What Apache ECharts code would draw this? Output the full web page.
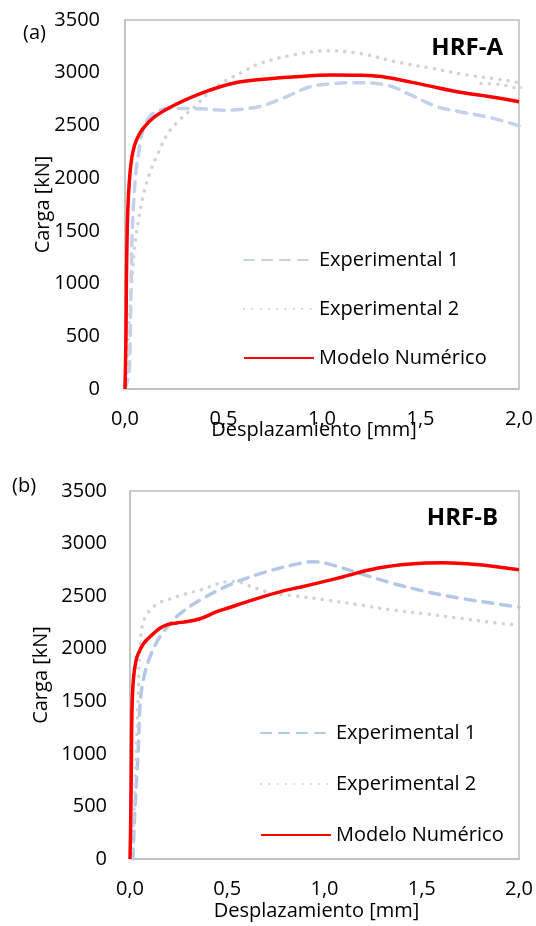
<!DOCTYPE html>
<html>
<head>
<meta charset="utf-8">
<script src="https://cdn.jsdelivr.net/npm/echarts@6/dist/echarts.min.js"></script>
<style>
    html, body {margin: 0; padding: 0; background: #fff;}
    #boxA, #boxB {width: 536px; height: 463px;}
</style>
</head>
<body>
<div id="boxA"></div>
<div id="boxB"></div>
<script>
// (a) HRF-A
var dispA_exp1 = [0, 0.02, 0.026, 0.031, 0.036, 0.045, 0.055, 0.068, 0.091, 0.134, 0.218, 0.386, 0.5, 0.6, 0.685, 0.8, 0.94, 1.05, 1.16, 1.33, 1.45, 1.58, 1.7, 1.87, 2.0];
var loadA_exp1 = [0, 150, 500, 1000, 1450, 1800, 2050, 2220, 2457, 2600, 2660, 2658, 2645, 2655, 2680, 2757, 2867, 2895, 2905, 2883, 2790, 2680, 2630, 2567, 2495];
var dispA_exp2 = [0, 0.01, 0.02, 0.032, 0.049, 0.066, 0.091, 0.125, 0.168, 0.218, 0.286, 0.354, 0.43, 0.516, 0.6, 0.685, 0.854, 1.02, 1.19, 1.39, 1.56, 1.735, 1.9, 2.0, 2.04, 2.0, 1.9, 1.77];
var loadA_exp2 = [0, 150, 620, 940, 1350, 1570, 1824, 2046, 2236, 2425, 2568, 2678, 2820, 2930, 3010, 3088, 3168, 3209, 3183, 3097, 3041, 2978, 2937, 2905, 2890, 2855, 2890, 2900];
var dispA_num = [0, 0.005, 0.007, 0.012, 0.018, 0.027, 0.04, 0.06, 0.091, 0.151, 0.252, 0.386, 0.55, 0.685, 0.85, 1.05, 1.2, 1.33, 1.53, 1.7, 1.87, 2.0];
var loadA_num = [0, 500, 1000, 1570, 1850, 2080, 2250, 2370, 2470, 2583, 2694, 2805, 2900, 2935, 2960, 2978, 2975, 2955, 2880, 2815, 2768, 2725];

// (b) HRF-B
var dispB_exp1 = [0.015, 0.02, 0.026, 0.035, 0.043, 0.051, 0.068, 0.103, 0.154, 0.24, 0.36, 0.53, 0.703, 0.874, 0.94, 1.01, 1.18, 1.35, 1.525, 1.7, 1.87, 2.0];
var loadB_exp1 = [0, 250, 497, 800, 1068, 1449, 1702, 1924, 2114, 2305, 2463, 2622, 2733, 2812, 2828, 2812, 2717, 2622, 2542, 2479, 2431, 2393];
var dispB_exp2 = [0.01, 0.017, 0.026, 0.034, 0.043, 0.051, 0.068, 0.103, 0.154, 0.189, 0.274, 0.36, 0.497, 0.55, 0.6, 0.65, 0.737, 0.84, 1.01, 1.18, 1.35, 1.525, 1.7, 1.87, 2.0];
var loadB_exp2 = [0, 300, 700, 1132, 1607, 2019, 2250, 2368, 2440, 2463, 2515, 2558, 2637, 2640, 2606, 2574, 2527, 2505, 2463, 2416, 2368, 2330, 2289, 2248, 2222];
var dispB_num = [0, 0.004, 0.007, 0.01, 0.017, 0.03, 0.043, 0.07, 0.103, 0.15, 0.189, 0.24, 0.29, 0.36, 0.446, 0.5, 0.64, 0.788, 0.874, 1.0, 1.097, 1.27, 1.44, 1.61, 1.78, 2.0];
var loadB_num = [0, 400, 900, 1400, 1700, 1880, 1956, 2050, 2114, 2190, 2226, 2245, 2257, 2285, 2352, 2385, 2470, 2550, 2585, 2640, 2685, 2765, 2806, 2818, 2800, 2750];

var seriesNames = ['Experimental 1', 'Experimental 2', 'Modelo Numérico'];
var FONT = '"Open Sans", sans-serif';

function pairs(xs, ys) {
    var out = [];
    for (var i = 0; i < xs.length; i++) {
        out.push([xs[i], ys[i]]);
    }
    return out;
}

function makeOption(cfg) {
    return {
        animation: false,
        textStyle: {fontFamily: FONT},
        title: {
            text: cfg.tag,
            right: cfg.tagRight,
            top: cfg.tagTop,
            textStyle: {fontFamily: FONT, fontSize: 24, fontWeight: 'bold', color: '#000'}
        },
        graphic: [{
            type: 'text',
            left: cfg.letterX,
            top: cfg.letterY,
            style: {text: cfg.letter, font: '20px ' + FONT, fill: '#000'}
        }],
        grid: {
            left: cfg.left, right: 17, top: cfg.top, height: cfg.height,
            outerBoundsMode: 'none',
            show: true, borderColor: '#BFBFBF', borderWidth: 1.5
        },
        legend: {
            orient: 'vertical',
            left: cfg.legendX,
            top: cfg.legendY,
            padding: 0,
            itemWidth: 70,
            itemHeight: 20,
            itemGap: cfg.legendGap,
            itemStyle: {opacity: 0},
            textStyle: {fontFamily: FONT, fontSize: 20, color: '#000', lineHeight: 20},
            data: seriesNames
        },
        xAxis: {
            type: 'value',
            min: 0, max: 2, interval: 0.5,
            name: 'Desplazamiento [mm]',
            nameLocation: 'middle',
            nameGap: cfg.xNameGap,
            nameMoveOverlap: false,
            nameTextStyle: {fontFamily: FONT, fontSize: 20, color: '#000', padding: [0, 16, 0, 0]},
            axisLine: {lineStyle: {color: '#BFBFBF', width: 1.5}},
            axisTick: {show: false},
            splitLine: {show: false},
            axisLabel: {
                fontFamily: FONT, fontSize: 20, color: '#000', margin: 20,
                formatter: function (v) { return v.toFixed(1).replace('.', ','); }
            }
        },
        yAxis: {
            type: 'value',
            min: 0, max: 3500, interval: 500,
            name: 'Carga [kN]',
            nameLocation: 'middle',
            nameGap: cfg.yNameGap,
            nameMoveOverlap: false,
            nameTextStyle: {fontFamily: FONT, fontSize: 20, color: '#000'},
            axisLine: {show: true, lineStyle: {color: '#BFBFBF', width: 1.5}},
            axisTick: {show: false},
            splitLine: {show: false},
            axisLabel: {
                fontFamily: FONT, fontSize: 20, color: '#000', margin: cfg.yMargin,
                formatter: function (v) { return String(v); }
            }
        },
        series: [
            {
                name: seriesNames[0], type: 'line', symbol: 'none', smooth: 0.35,
                data: pairs(cfg.d1x, cfg.d1y),
                lineStyle: {color: cfg.exp1Color, width: 3.5, type: [10, 8], cap: 'round'},
                itemStyle: {color: cfg.exp1Color}
            },
            {
                name: seriesNames[1], type: 'line', symbol: 'none', smooth: 0.35,
                data: pairs(cfg.d2x, cfg.d2y),
                lineStyle: {color: '#D3D3D3', width: 3.5, type: [0.1, 8.2], cap: 'round'},
                itemStyle: {color: '#D3D3D3'}
            },
            {
                name: seriesNames[2], type: 'line', symbol: 'none', smooth: 0.35,
                data: pairs(cfg.d3x, cfg.d3y),
                lineStyle: {color: '#FF0000', width: 3.5},
                itemStyle: {color: '#FF0000'},
                z: 5
            }
        ]
    };
}

var chartA = echarts.init(document.getElementById('boxA'));
chartA.setOption(makeOption({
    tag: 'HRF-A', tagRight: 28, tagTop: 31,
    letter: '(a)', letterX: 23, letterY: 23,
    left: 125, top: 20, height: 369,
    legendX: 243, legendY: 250, legendGap: 29,
    xNameGap: 31, yNameGap: 72, yMargin: 25,
    exp1Color: '#C4D1EA',
    d1x: dispA_exp1, d1y: loadA_exp1,
    d2x: dispA_exp2, d2y: loadA_exp2,
    d3x: dispA_num, d3y: loadA_num
}));

var chartB = echarts.init(document.getElementById('boxB'));
chartB.setOption(makeOption({
    tag: 'HRF-B', tagRight: 33, tagTop: 38,
    letter: '(b)', letterX: 12, letterY: 13,
    left: 130, top: 28, height: 368,
    legendX: 260, legendY: 260, legendGap: 31,
    xNameGap: 42, yNameGap: 79, yMargin: 23,
    exp1Color: '#B4C7E7',
    d1x: dispB_exp1, d1y: loadB_exp1,
    d2x: dispB_exp2, d2y: loadB_exp2,
    d3x: dispB_num, d3y: loadB_num
}));
</script>
</body>
</html>
